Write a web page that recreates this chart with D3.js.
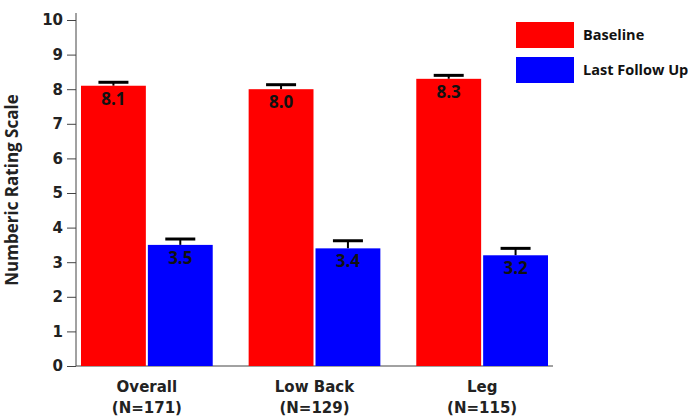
<!DOCTYPE html>
<meta charset="utf-8">
<style>
body { margin: 0; background: #fff; }
.tick text { font-family: "DejaVu Sans"; font-weight: bold; font-size: 15px; fill: #222; }
.domain, .tick line { stroke: #444; }
.xlab { font-family: "DejaVu Sans"; font-weight: bold; font-size: 15px; fill: #222; }
.val { font-family: "Open Sans"; font-weight: bold; font-size: 17px; fill: #111; }
.leg { font-family: "Open Sans"; font-weight: bold; font-size: 14.5px; fill: #111; }
.ylab { font-family: "Open Sans"; font-weight: bold; font-size: 17px; fill: #222; }
</style>
<body>
<script src="https://d3js.org/d3.v7.min.js"></script>
<script>

var width = 688,
    height = 419;

var categories = ["Overall", "Low Back", "Leg"];
var sampleSizes = ["(N=171)", "(N=129)", "(N=115)"];
var series = ["Baseline", "Last Follow Up"];
var colors = ["#ff0000", "#0000ff"];
var baseline = [8.1, 8.0, 8.3];
var baselineErr = [0.1, 0.13, 0.1];
var followUp = [3.5, 3.4, 3.2];
var followUpErr = [0.17, 0.22, 0.2];
var yTicks = [0, 1, 2, 3, 4, 5, 6, 7, 8, 9, 10];

var values = [baseline, followUp];
var errors = [baselineErr, followUpErr];

var svg = d3.select("body").append("svg")
    .attr("width", width)
    .attr("height", height);

var y = d3.scaleLinear()
    .domain([0, 10])
    .range([366, 20]);

var x0 = d3.scaleBand()
    .domain(categories)
    .range([81, 548])
    .paddingInner(36 / 168)
    .paddingOuter(0);

var x1 = d3.scaleBand()
    .domain(series)
    .range([0, x0.bandwidth()])
    .paddingInner(0.03);

// y axis
svg.append("g")
    .attr("transform", "translate(76,0)")
    .call(d3.axisLeft(y).tickValues(yTicks).tickSize(9).tickPadding(4).tickSizeOuter(0))
  .select(".domain")
    .attr("d", "M0,13V366");

// x axis line
svg.append("line")
    .attr("x1", 76).attr("x2", 553)
    .attr("y1", y(0)).attr("y2", y(0))
    .attr("stroke", "#444");

svg.append("text")
    .attr("class", "ylab")
    .attr("transform", "translate(18,190) rotate(-90)")
    .attr("text-anchor", "middle")
    .text("Numberic Rating Scale");

// bars
var rows = [];
categories.forEach(function(c, i) {
  series.forEach(function(s, j) {
    rows.push({ cat: c, ser: s, j: j, v: values[j][i], e: errors[j][i] });
  });
});

var bar = svg.selectAll(".bar")
    .data(rows)
  .enter().append("g")
    .attr("class", "bar")
    .attr("transform", function(d) { return "translate(" + (x0(d.cat) + x1(d.ser)) + ",0)"; });

bar.append("line")
    .attr("x1", x1.bandwidth() / 2).attr("x2", x1.bandwidth() / 2)
    .attr("y1", function(d) { return y(d.v); })
    .attr("y2", function(d) { return y(d.v + d.e); })
    .attr("stroke", "#000").attr("stroke-width", 2);

bar.append("line")
    .attr("x1", x1.bandwidth() / 2 - 15).attr("x2", x1.bandwidth() / 2 + 15)
    .attr("y1", function(d) { return y(d.v + d.e); })
    .attr("y2", function(d) { return y(d.v + d.e); })
    .attr("stroke", "#000").attr("stroke-width", 3);

bar.append("rect")
    .attr("y", function(d) { return y(d.v); })
    .attr("width", x1.bandwidth())
    .attr("height", function(d) { return y(0) - y(d.v); })
    .attr("fill", function(d) { return colors[d.j]; });

bar.append("text")
    .attr("class", "val")
    .attr("x", x1.bandwidth() / 2)
    .attr("y", function(d) { return y(d.v) + 19; })
    .attr("text-anchor", "middle")
    .text(function(d) { return d.v.toFixed(1); });

// category labels
var lab = svg.selectAll(".xlab")
    .data(categories)
  .enter().append("text")
    .attr("class", "xlab")
    .attr("text-anchor", "middle")
    .attr("transform", function(d) { return "translate(" + (x0(d) + x0.bandwidth() / 2) + ",0)"; });

lab.append("tspan").attr("x", 0).attr("y", 392).text(function(d) { return d; });
lab.append("tspan").attr("x", 0).attr("y", 413).text(function(d, i) { return sampleSizes[i]; });

// legend
var leg = svg.selectAll(".legitem")
    .data(series)
  .enter().append("g")
    .attr("class", "legitem")
    .attr("transform", function(d, i) { return "translate(516," + (22 + i * 35) + ")"; });

leg.append("rect")
    .attr("width", 58).attr("height", 26)
    .attr("fill", function(d, i) { return colors[i]; });

leg.append("text")
    .attr("class", "leg")
    .attr("x", 67).attr("y", 18)
    .text(function(d) { return d; });

</script>
